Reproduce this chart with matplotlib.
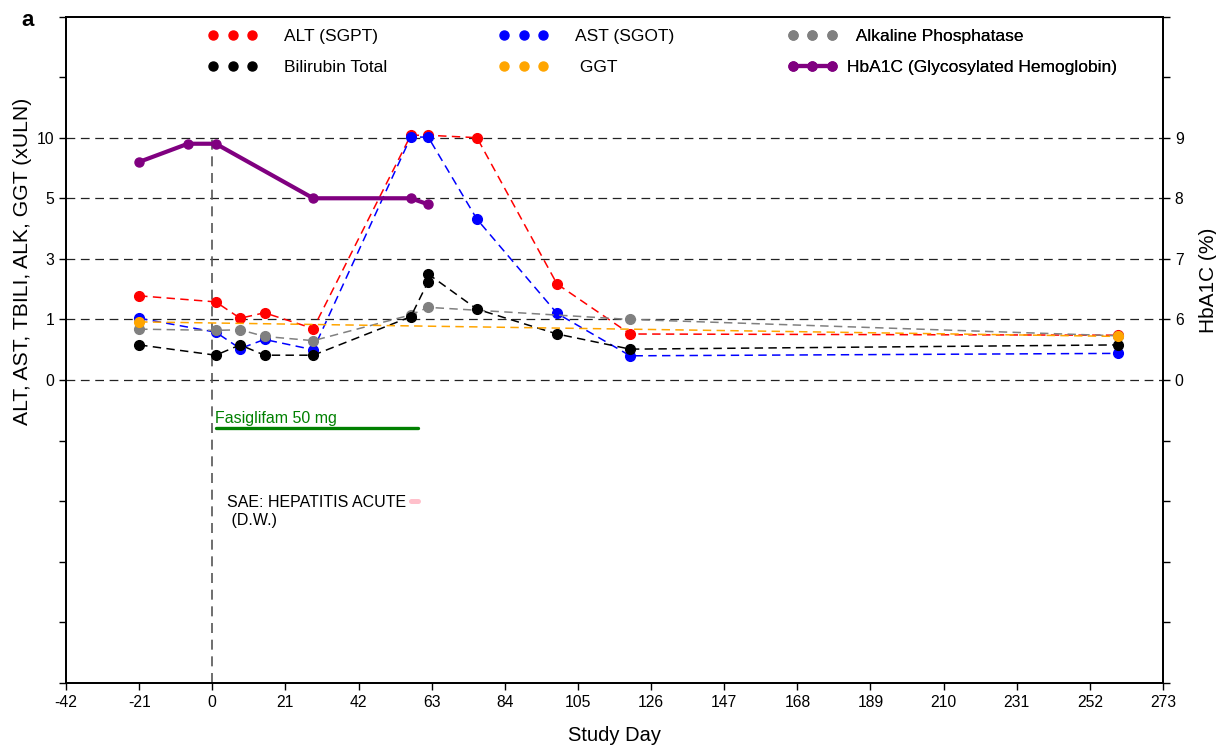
import numpy as np
import matplotlib
matplotlib.use("Agg")
import matplotlib.pyplot as plt
from matplotlib.lines import Line2D

plt.rcParams["font.family"] = ["Liberation Sans", "DejaVu Sans"]
plt.rcParams["axes.unicode_minus"] = False

# ---- data (study day, xULN or %) ----
ALT_DAY = [-21, 1, 8, 15, 29, 57, 62, 76, 99, 120, 260]
ALT = [1.78, 1.58, 1.04, 1.22, 0.85, 10.2, 10.2, 10.0, 2.17, 0.76, 0.74]

AST_DAY = [-21, 1, 8, 15, 29, 57, 62, 76, 99, 120, 260]
AST = [1.04, 0.79, 0.52, 0.67, 0.50, 10.05, 10.05, 4.31, 1.20, 0.40, 0.44]

ALK_DAY = [-21, 1, 8, 15, 29, 57, 62, 120, 260]
ALK = [0.84, 0.82, 0.83, 0.72, 0.65, 1.15, 1.40, 1.00, 0.73]

TBIL_DAY = [-21, 1, 8, 15, 29, 57, 62, 62, 76, 99, 120, 260]
TBIL = [0.58, 0.41, 0.58, 0.41, 0.41, 1.09, 2.25, 2.50, 1.34, 0.76, 0.51, 0.58]

GGT_DAY = [-21, 260]
GGT = [0.96, 0.72]

HBA1C_DAY = [-21, -7, 1, 29, 57, 62]
HBA1C = [8.6, 8.9, 8.9, 8.0, 8.0, 7.9]

DOSE_START, DOSE_END = 1, 59
DOSE_LABEL = "Fasiglifam 50 mg"
SAE_START, SAE_END = 57, 59
SAE_LABEL = "SAE: HEPATITIS ACUTE\n (D.W.)"

X_TICKS = list(range(-42, 274, 21))
LEFT_LABELED = [0, 1, 3, 5, 10]
LEFT_MINOR = [-5, -4, -3, -2, -1, 15, 20]
RIGHT_LABELED = [0, 6, 7, 8, 9]
RIGHT_MINOR = [-30, -24, -18, -12, -6, 10, 11]

# broken axes: equal spacing between labelled ticks
L_VAL = [-1000, 0, 1, 3, 5, 10, 1000]
L_POS = [-1000, 0, 1, 2, 3, 4, 4 + 990 / 5]
R_VAL = [-6000, 0, 6, 7, 8, 9, 1000]
R_POS = [-1000, 0, 1, 2, 3, 4, 995]


def l_fwd(v):
    return np.interp(v, L_VAL, L_POS)


def l_inv(p):
    return np.interp(p, L_POS, L_VAL)


def r_fwd(v):
    return np.interp(v, R_VAL, R_POS)


def r_inv(p):
    return np.interp(p, R_POS, R_VAL)


fig = plt.figure(figsize=(12.16, 7.45), dpi=100)
ax = fig.add_axes([66 / 1216, 1 - 683 / 745, 1097 / 1216, 666.5 / 745])
ax.set_yscale("function", functions=(l_fwd, l_inv))
ax.set_xlim(-42, 273)
ax.set_ylim(-5, 20)

dash = (0, (5.5, 3.5))
series = [
    (ALT_DAY, ALT, "red", "ALT (SGPT)"),
    (AST_DAY, AST, "blue", "AST (SGOT)"),
    (ALK_DAY, ALK, "gray", "Alkaline Phosphatase"),
    (TBIL_DAY, TBIL, "black", "Bilirubin Total"),
    (GGT_DAY, GGT, "orange", "GGT"),
]
for d, v, c, _ in series:
    ax.plot(d, v, color=c, lw=1.1, ls=dash, marker="o", ms=7, zorder=3)

# gridlines at labelled ticks
for v in LEFT_LABELED:
    ax.axhline(v, color="#222222", lw=0.9, ls=(0, (7, 4.5)), zorder=1)
ax.vlines(0, -5, 10, color="#555555", lw=1.2, ls=(0, (6, 4)), zorder=1)

# treatment bar and SAE
y_dose = -0.79
ax.plot([DOSE_START, DOSE_END], [y_dose, y_dose], color="#008000", lw=2.4,
        solid_capstyle="round")
ax.annotate(DOSE_LABEL, (DOSE_START, y_dose), xytext=(-0.5, 1.2),
            textcoords="offset points", ha="left", va="bottom",
            color="#008000", fontsize=11.5)
y_sae = -2.0
ax.plot([SAE_START, SAE_END], [y_sae, y_sae], color="pink", lw=3.6,
        solid_capstyle="round")
ax.annotate(SAE_LABEL, (SAE_START, y_sae), xytext=(-3, -7.5),
            textcoords="offset points", ha="right", va="center",
            multialignment="left", fontsize=11.5, linespacing=1.3)

ax.set_xticks(X_TICKS)
ax.set_yticks(LEFT_LABELED)
ax.set_yticklabels([str(t) for t in LEFT_LABELED])
ax.set_yticks(LEFT_MINOR, minor=True)
ax.tick_params(axis="both", which="both", direction="out", length=5,
               width=1, labelsize=11.3)
ax.tick_params(axis="y", which="minor", labelleft=False)
for s in ax.spines.values():
    s.set_linewidth(1.3)

ax.set_xlabel("Study Day", fontsize=14.5, labelpad=12)
ax.set_ylabel("ALT, AST, TBILI, ALK, GGT (xULN)", fontsize=15.2)
ax.yaxis.set_label_coords(-0.031, 0.632)

# HbA1C on the right axis
ax2 = ax.twinx()
ax2.set_yscale("function", functions=(r_fwd, r_inv))
ax2.set_ylim(-30, 11)
ax2.plot(HBA1C_DAY, HBA1C, color="purple", lw=3.0, marker="o", ms=6.5,
         zorder=4)
ax2.set_yticks(RIGHT_LABELED)
ax2.set_yticklabels([str(t) for t in RIGHT_LABELED])
ax2.set_yticks(RIGHT_MINOR, minor=True)
ax2.tick_params(axis="y", which="both", direction="out", length=5,
                width=1, labelsize=11.3)
ax2.tick_params(axis="y", which="minor", labelright=False)
ax2.set_ylabel("HbA1C (%)", fontsize=15)
ax2.yaxis.set_label_coords(1.033, 0.604)
for s in ax2.spines.values():
    s.set_linewidth(1.3)


# legend: three columns, two rows
def handle(c, solid=False):
    return Line2D([], [], color=c, marker="o", ms=6.5,
                  ls="-" if solid else "none", lw=3.0)


cols = [
    (0.1294, [handle("red"), handle("black")],
     ["ALT (SGPT)", "Bilirubin Total"], 1.54),
    (0.3948, [handle("blue"), handle("orange")],
     ["AST (SGOT)", " GGT"], 1.54),
    (0.658, [handle("gray"), handle("purple", True)],
     ["  Alkaline Phosphatase", "HbA1C (Glycosylated Hemoglobin)"], 0.56),
]
for x0, hs, labels, pad in cols:
    leg = ax2.legend(hs, labels, loc="upper left", bbox_to_anchor=(x0, 0.981),
                     frameon=False, fontsize=12.5, numpoints=3,
                     handlelength=2.84, handletextpad=pad, borderpad=0,
                     borderaxespad=0, labelspacing=0.92)
    ax2.add_artist(leg)

fig.text(21 / 1216, 1 - 21 / 745, "a", fontsize=16, fontweight="bold",
         ha="left", va="center")

fig.savefig("out.png", dpi=100)
